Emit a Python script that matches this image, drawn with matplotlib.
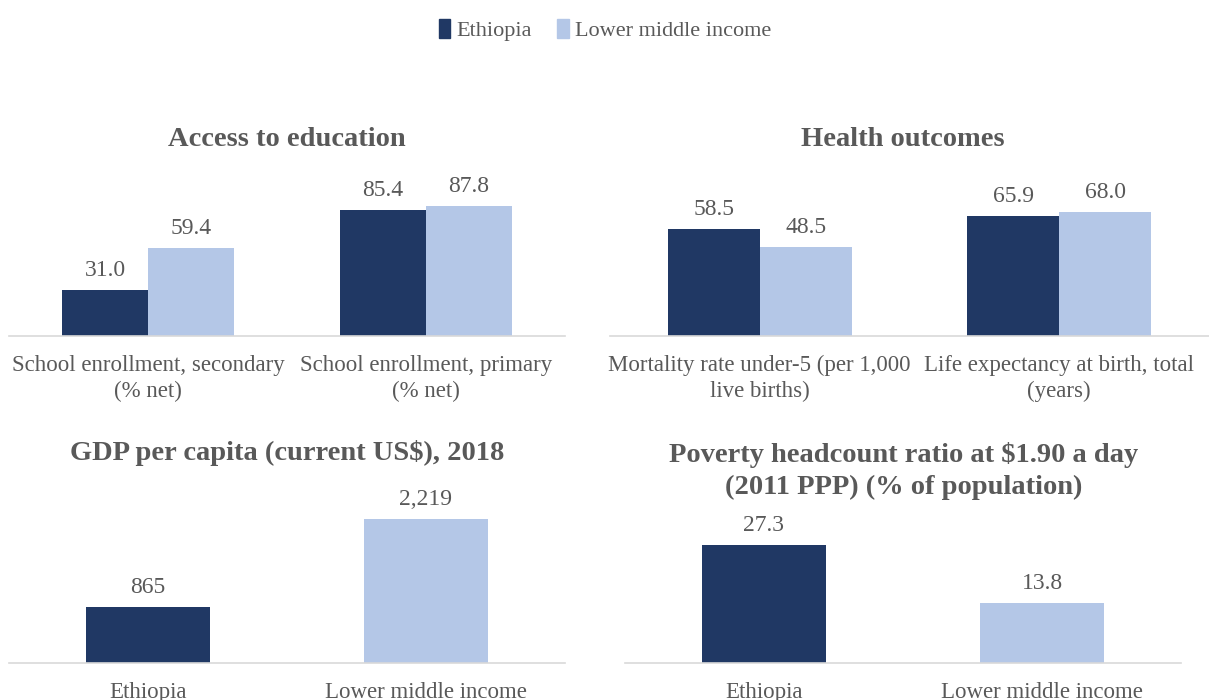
import matplotlib
matplotlib.use("Agg")
import matplotlib.pyplot as plt
from matplotlib.patches import Patch
import numpy as np

plt.rcParams['font.family'] = ['Liberation Serif', 'DejaVu Serif']

# data
series = ['Ethiopia', 'Lower middle income']
edu_labels = ['School enrollment, secondary\n(% net)', 'School enrollment, primary\n(% net)']
edu_eth = [31.0, 85.4]
edu_lmi = [59.4, 87.8]
health_labels = ['Mortality rate under-5 (per 1,000\nlive births)', 'Life expectancy at birth, total\n(years)']
health_eth = [58.5, 65.9]
health_lmi = [48.5, 68.0]
gdp_labels = ['Ethiopia', 'Lower middle income']
gdp_vals = [865, 2219]
pov_labels = ['Ethiopia', 'Lower middle income']
pov_vals = [27.3, 13.8]

DARK = '#203864'
LIGHT = '#B4C7E7'
TXT = '#595959'
AXC = '#D9D9D9'

W, H = 1209, 700
fig = plt.figure(figsize=(W / 100, H / 100), dpi=100)


def px_axes(left, right, base, height):
    return fig.add_axes([left / W, (H - base) / H, (right - left) / W, height / H])


def style(ax, labels, ymax):
    ax.set_ylim(0, ymax)
    ax.set_xlim(-0.5, len(labels) - 0.5)
    for s in ['top', 'left', 'right']:
        ax.spines[s].set_visible(False)
    ax.spines['bottom'].set_color(AXC)
    ax.spines['bottom'].set_linewidth(1.2)
    ax.set_yticks([])
    ax.set_xticks(np.arange(len(labels)))
    ax.set_xticklabels(labels, fontsize=16.5, color=TXT, linespacing=1.3)
    ax.tick_params(axis='x', length=0, pad=13.5)
    ax.patch.set_alpha(0)


def add_title(txt, xc, yc):
    fig.text(xc / W, 1 - yc / H, txt, ha='center', va='center', fontsize=20.5,
             fontweight='bold', color=TXT, linespacing=1.4)


VAL_FS = 17
VAL_PAD = 6.5

# Access to education
ax1 = px_axes(9, 565, 336, 148)
x = np.arange(len(edu_labels))
bw = 0.309
b1 = ax1.bar(x - bw / 2, edu_eth, bw, color=DARK)
b2 = ax1.bar(x + bw / 2, edu_lmi, bw, color=LIGHT)
ax1.bar_label(b1, fmt='%.1f', padding=VAL_PAD, fontsize=VAL_FS, color=TXT)
ax1.bar_label(b2, fmt='%.1f', padding=VAL_PAD, fontsize=VAL_FS, color=TXT)
style(ax1, edu_labels, 100)
add_title('Access to education', 287, 139)

# Health outcomes
ax2 = px_axes(610, 1209, 336, 146)
bw = 0.307
b1 = ax2.bar(x - bw / 2, health_eth, bw, color=DARK)
b2 = ax2.bar(x + bw / 2, health_lmi, bw, color=LIGHT)
ax2.bar_label(b1, fmt='%.1f', padding=VAL_PAD, fontsize=VAL_FS, color=TXT)
ax2.bar_label(b2, fmt='%.1f', padding=VAL_PAD, fontsize=VAL_FS, color=TXT)
style(ax2, health_labels, 80)
add_title('Health outcomes', 903, 139)

# GDP per capita
ax3 = px_axes(9, 565, 663, 162)
bw = 0.446
b = ax3.bar(x, gdp_vals, bw, color=[DARK, LIGHT])
ax3.bar_label(b, labels=[f'{v:,}' for v in gdp_vals], padding=VAL_PAD, fontsize=VAL_FS, color=TXT)
style(ax3, gdp_labels, 2500)
add_title('GDP per capita (current US$), 2018', 287, 453)

# Poverty headcount
ax4 = px_axes(625, 1181, 663, 151)
b = ax4.bar(x, pov_vals, bw, color=[DARK, LIGHT])
ax4.bar_label(b, fmt='%.1f', padding=VAL_PAD, fontsize=VAL_FS, color=TXT)
style(ax4, pov_labels, 35)
add_title('Poverty headcount ratio at $1.90 a day\n(2011 PPP) (% of population)', 904, 471)

# legend
handles = [Patch(color=DARK, label=series[0]), Patch(color=LIGHT, label=series[1])]
fig.legend(handles=handles, loc='center', bbox_to_anchor=(605 / W, 1 - 30 / H), ncol=2,
           frameon=False, fontsize=16, handlelength=0.5, handleheight=0.95,
           handletextpad=0.3, columnspacing=1.15, labelcolor=TXT)

fig.savefig('out.png', dpi=100)
